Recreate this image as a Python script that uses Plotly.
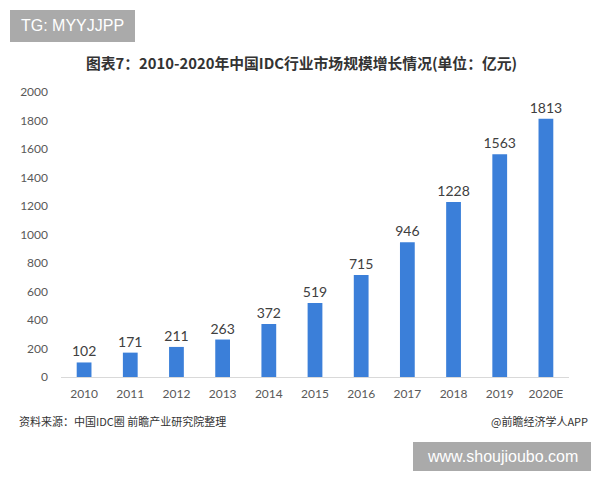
import plotly.graph_objects as go

years = ["2010", "2011", "2012", "2013", "2014", "2015", "2016", "2017", "2018", "2019", "2020E"]
values = [102, 171, 211, 263, 372, 519, 715, 946, 1228, 1563, 1813]
y_ticks = [0, 200, 400, 600, 800, 1000, 1200, 1400, 1600, 1800, 2000]

title_text = "图表7：2010-2020年中国IDC行业市场规模增长情况(单位：亿元)"
source_text = "资料来源：中国IDC圈 前瞻产业研究院整理"
credit_text = "@前瞻经济学人APP"
tag_text = "TG: MYYJJPP"
site_text = "www.shoujioubo.com"

fig = go.Figure()
fig.add_trace(go.Bar(
    x=years, y=values,
    marker=dict(color="#3b7fd9", line=dict(width=0)),
    width=0.32,
    text=[str(v) for v in values],
    textposition="outside",
    constraintext="none",
    textfont=dict(family="Lato, Noto Sans", size=14, color="#404040"),
    cliponaxis=False,
))

fig.update_layout(
    width=600, height=480,
    margin=dict(l=61, r=31, t=92, b=103),
    paper_bgcolor="white", plot_bgcolor="white",
    showlegend=False,
    xaxis=dict(
        type="category",
        showgrid=False, showline=True, linecolor="#d9d9d9", linewidth=1,
        ticks="", tickfont=dict(family="Lato, Noto Sans", size=12, color="#595959"),
        ticklabelstandoff=6,
    ),
    yaxis=dict(
        range=[0, 2000], tickvals=y_ticks,
        showgrid=False, showline=False, zeroline=False, ticks="",
        tickfont=dict(family="Lato, Noto Sans", size=12, color="#595959"),
        ticklabelstandoff=12,
    ),
    font=dict(family="Noto Sans CJK SC"),
)

fig.add_annotation(
    text="<b>" + title_text + "</b>", xref="paper", yref="paper",
    x=(301 - 61) / 508, y=1 + (92 - 63) / 285, xanchor="center", yanchor="middle",
    showarrow=False, font=dict(family="Noto Sans CJK SC", size=14.8, color="#333333"),
)
fig.add_annotation(
    text=source_text, xref="paper", yref="paper",
    x=-(61 - 17) / 508, y=-(421 - 377) / 285, xanchor="left", yanchor="middle",
    showarrow=False, font=dict(family="Noto Sans CJK SC", size=11, color="#333333"),
)
fig.add_annotation(
    text=credit_text, xref="paper", yref="paper",
    x=1 + (590 - 569) / 508, y=-(421 - 377) / 285, xanchor="right", yanchor="middle",
    showarrow=False, font=dict(family="Noto Sans CJK SC", size=11, color="#333333"),
)

# grey label boxes
fig.add_shape(type="rect", xref="paper", yref="paper",
              x0=-(61 - 10) / 508, x1=-(61 - 135) / 508,
              y0=1 + (92 - 42) / 285, y1=1 + (92 - 10) / 285,
              fillcolor="#aaaaaa", line=dict(width=0), layer="above")
fig.add_annotation(
    text=tag_text, xref="paper", yref="paper",
    x=-(61 - 72) / 508, y=1 + (92 - 26) / 285, xanchor="center", yanchor="middle",
    showarrow=False, font=dict(family="Liberation Sans", size=16, color="white"),
)
fig.add_shape(type="rect", xref="paper", yref="paper",
              x0=(413 - 61) / 508, x1=(591 - 61) / 508,
              y0=-(471 - 377) / 285, y1=-(442 - 377) / 285,
              fillcolor="#aaaaaa", line=dict(width=0), layer="above")
fig.add_annotation(
    text=site_text, xref="paper", yref="paper",
    x=(502 - 61) / 508, y=-(456 - 377) / 285, xanchor="center", yanchor="middle",
    showarrow=False, font=dict(family="Liberation Sans", size=16, color="white"),
)

fig.write_html("out.html")
